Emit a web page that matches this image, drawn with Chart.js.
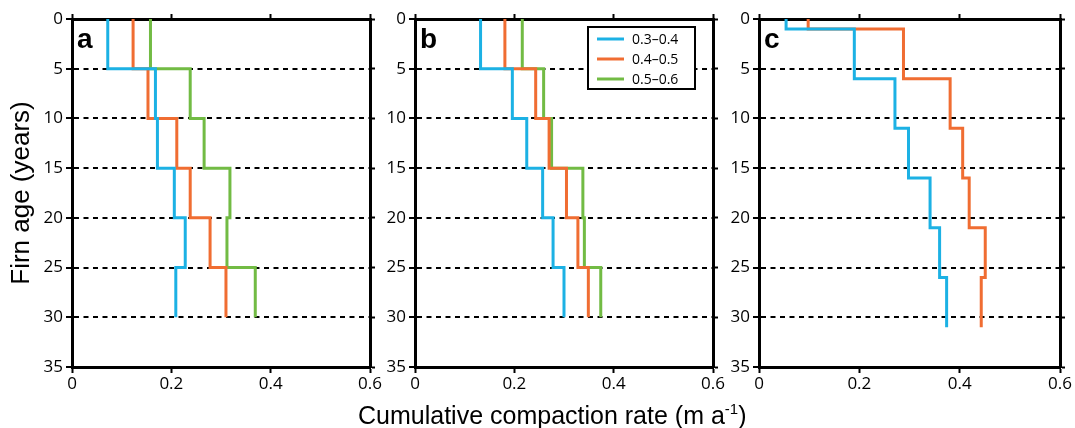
<!DOCTYPE html>
<html><head><meta charset="utf-8">
<script src="https://cdn.jsdelivr.net/npm/chart.js@4.4.0/dist/chart.umd.min.js"></script>
<style>
html,body{margin:0;padding:0;background:#fff;width:1075px;height:428px;overflow:hidden;position:relative;}
canvas{position:absolute;top:0;}
#xtitle{position:absolute;left:358px;top:400px;font-family:'Liberation Sans',Arial,sans-serif;font-size:25px;line-height:30px;color:#000;white-space:nowrap;}
#xtitle sup{font-size:15px;line-height:0;vertical-align:0;position:relative;top:-10px;}
</style></head><body>
<canvas id="ca" width="385" height="428" style="left:0px"></canvas>
<canvas id="cb" width="345" height="428" style="left:385px"></canvas>
<canvas id="cc" width="345" height="428" style="left:730px"></canvas>
<div id="xtitle"></div>
<script>
// ---- data ----
const seriesLabels = ['0.3\u20130.4', '0.4\u20130.5', '0.5\u20130.6'];
const seriesColors = ['#1cb1e4', '#f06d32', '#72bb44'];
const xTickValues = [0, 0.2, 0.4, 0.6];
const yTickValues = [0, 5, 10, 15, 20, 25, 30, 35];
const panelLetters = ['a', 'b', 'c'];
const xTitleText = 'Cumulative compaction rate (m a';
const xTitleSup = '-1';
const yTitle = 'Firn age (years)';

// panel a: age boundaries (years) and rate per interval
const agesA = [0, 5, 10, 15, 20, 25, 30];
const aBlue   = [0.072, 0.168, 0.172, 0.206, 0.228, 0.209];
const aOrange = [0.123, 0.153, 0.211, 0.238, 0.278, 0.310];
const aGreen  = [0.158, 0.238, 0.266, 0.318, 0.312, 0.369];

// panel b
const agesB = [0, 5, 10, 15, 20, 25, 30];
const bBlue   = [0.132, 0.196, 0.225, 0.257, 0.278, 0.300];
const bOrange = [0.181, 0.243, 0.270, 0.305, 0.328, 0.349];
const bGreen  = [0.216, 0.259, 0.275, 0.338, 0.341, 0.374];

// panel c
const agesC = [0, 1, 6, 11, 16, 21, 26, 31];
const cBlue   = [0.054, 0.190, 0.271, 0.298, 0.341, 0.360, 0.374];
const cOrange = [0.098, 0.288, 0.381, 0.406, 0.419, 0.451, 0.443];

// shared x-axis title (HTML text with superscript)
(function () {
  const el = document.getElementById('xtitle');
  el.appendChild(document.createTextNode(xTitleText));
  const sup = document.createElement('sup');
  sup.textContent = xTitleSup;
  el.appendChild(sup);
  el.appendChild(document.createTextNode(')'));
})();

// ---- helpers ----
function profile(ages, vals) {
  const pts = vals.map((v, i) => ({x: v, y: ages[i]}));
  pts.push({x: vals[vals.length - 1], y: ages[vals.length]});
  return pts;
}
function ds(i, ages, vals) {
  return {
    label: seriesLabels[i], data: profile(ages, vals),
    borderColor: seriesColors[i], backgroundColor: seriesColors[i],
    borderWidth: 3, pointRadius: 0, stepped: 'after', fill: false,
    borderCapStyle: 'butt', borderJoinStyle: 'miter'
  };
}
const FONT = "'Open Sans', 'Noto Sans', sans-serif";
const TFONT = "'Liberation Sans', Arial, sans-serif";

const deco = {
  id: 'deco',
  afterDraw(chart, args, opts) {
    const ctx = chart.ctx, ca = chart.chartArea;
    ctx.save();
    ctx.fillStyle = '#000';
    ctx.font = "bold 28px " + TFONT;
    ctx.textBaseline = 'alphabetic';
    ctx.textAlign = 'left';
    ctx.fillText(opts.letter, ca.left + 5, ca.top + 29);
    if (opts.legend) {
      const w = 107, h = 62;
      const bx = ca.right - 18 - w, by = ca.top + 8;
      ctx.fillStyle = '#fff';
      ctx.fillRect(bx, by, w, h);
      ctx.strokeStyle = '#000';
      ctx.lineWidth = 2;
      ctx.strokeRect(bx, by, w, h);
      ctx.font = "14px " + FONT;
      ctx.textBaseline = 'middle';
      chart.data.datasets.forEach((d, i) => {
        const yy = by + 12 + i * 20;
        ctx.strokeStyle = d.borderColor;
        ctx.lineWidth = 3;
        ctx.beginPath();
        ctx.moveTo(bx + 9, yy);
        ctx.lineTo(bx + 36, yy);
        ctx.stroke();
        ctx.fillStyle = '#000';
        ctx.fillText(d.label, bx + 44, yy + 1);
      });
    }
    ctx.restore();
  }
};

function setTicks(values) {
  return axis => { axis.ticks = values.map(v => ({value: v})); };
}

function makeChart(id, datasets, cfg) {
  return new Chart(document.getElementById(id), {
    type: 'line',
    data: {datasets},
    options: {
      responsive: false,
      animation: false,
      events: [],
      layout: {padding: {left: 0, right: cfg.padRight, top: 13, bottom: 0}},
      plugins: {
        legend: {display: false},
        tooltip: {enabled: false},
        deco: {letter: cfg.letter, legend: cfg.legend}
      },
      scales: {
        x: {
          type: 'linear', position: 'bottom', min: 0, max: 0.6,
          afterBuildTicks: setTicks(xTickValues),
          afterFit: s => { s.height = 61; },
          ticks: {font: {family: FONT, size: 17}, color: '#000', padding: 1,
                  maxRotation: 0, callback: v => String(v)},
          grid: {display: true, drawOnChartArea: false, drawTicks: true,
                 tickLength: 6, tickWidth: 2, tickColor: '#000', color: '#000'},
          border: {display: true, color: '#000', width: 3}
        },
        x2: {
          type: 'linear', position: 'top', min: 0, max: 0.6,
          afterBuildTicks: setTicks(xTickValues),
          afterFit: s => { s.height = 6; },
          ticks: {display: false},
          grid: {display: true, drawOnChartArea: false, tickLength: 5,
                 tickWidth: 2, tickColor: '#000', color: '#000'},
          border: {display: true, color: '#000', width: 3}
        },
        y: {
          type: 'linear', position: 'left', min: 0, max: 35, reverse: true,
          afterBuildTicks: setTicks(yTickValues),
          afterFit: s => { s.width = cfg.yWidth; },
          ticks: {font: {family: FONT, size: 17}, color: '#000', padding: 3,
                  callback: v => String(v)},
          grid: {display: true, drawOnChartArea: true, drawTicks: true,
                 color: '#000',
                 lineWidth: c => (c.tick && c.tick.value > 0 && c.tick.value < 35) ? 2 : 0,
                 tickLength: 6, tickWidth: 2, tickColor: '#000', tickBorderDash: []},
          border: {display: true, color: '#000', width: 3, dash: [5, 4.5]},
          title: {display: cfg.showYTitle, text: yTitle, color: '#000',
                  font: {family: TFONT, size: 26}, padding: {top: 6, bottom: 0}}
        },
        y2: {
          type: 'linear', position: 'right', min: 0, max: 35, reverse: true,
          afterBuildTicks: setTicks(yTickValues),
          afterFit: s => { s.width = 6; },
          ticks: {display: false},
          grid: {display: true, drawOnChartArea: false, tickLength: 5,
                 tickWidth: 2, tickColor: '#000', color: '#000'},
          border: {display: true, color: '#000', width: 3}
        }
      }
    },
    plugins: [deco]
  });
}

makeChart('ca', [ds(0, agesA, aBlue), ds(1, agesA, aOrange), ds(2, agesA, aGreen)],
  {letter: panelLetters[0], legend: false, showYTitle: true, yWidth: 72, padRight: 9});
makeChart('cb', [ds(0, agesB, bBlue), ds(1, agesB, bOrange), ds(2, agesB, bGreen)],
  {letter: panelLetters[1], legend: true, showYTitle: false, yWidth: 30, padRight: 11});
makeChart('cc', [ds(0, agesC, cBlue), ds(1, agesC, cOrange)],
  {letter: panelLetters[2], legend: false, showYTitle: false, yWidth: 29, padRight: 9});
</script>
</body></html>
